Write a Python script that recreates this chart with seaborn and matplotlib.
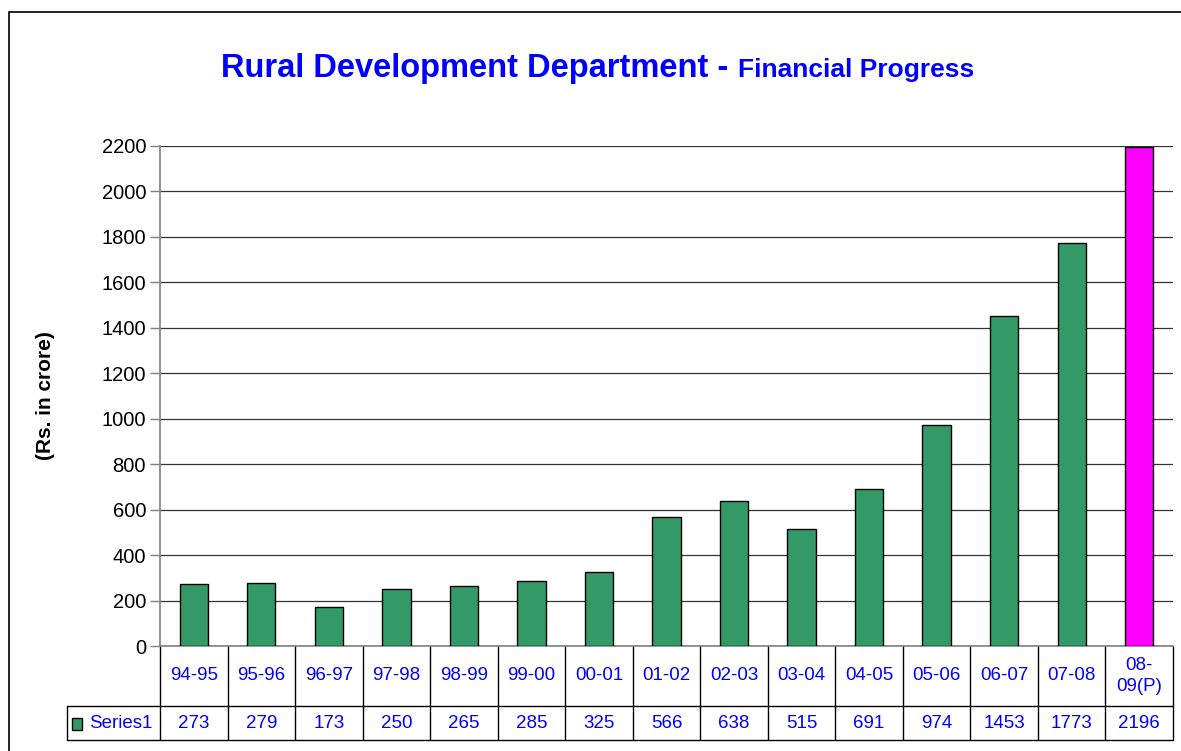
import matplotlib.pyplot as plt
import matplotlib.transforms as mtransforms
from matplotlib.patches import Rectangle
import seaborn as sns

# Chart data
years = ["94-95", "95-96", "96-97", "97-98", "98-99", "99-00", "00-01", "01-02",
         "02-03", "03-04", "04-05", "05-06", "06-07", "07-08", "08-\n09(P)"]
amounts = [273, 279, 173, 250, 265, 285, 325, 566, 638, 515, 691, 974, 1453, 1773, 2196]
series_name = "Series1"

green = "#339966"
magenta = "#FF00FF"
blue = "#0000FF"
bar_colors = [green] * (len(years) - 1) + [magenta]

sns.set_style("white")
plt.rcParams["font.family"] = ["Liberation Sans", "DejaVu Sans"]

fig = plt.figure(figsize=(11.81, 7.51), dpi=100)
ax = fig.add_axes([160 / 1181, 1 - 646 / 751, 1013 / 1181, 500 / 751])

sns.barplot(x=years, y=amounts, hue=years, palette=bar_colors, legend=False,
            width=0.42, edgecolor="black", linewidth=1, saturation=1,
            ax=ax, zorder=3)

ax.set_xlim(-0.5, len(years) - 0.5)
ax.set_ylim(0, 2200)
ax.set_yticks(range(0, 2201, 200))
ax.tick_params(axis="y", labelsize=14.5, length=7, width=1, color="#808080",
               labelcolor="black", direction="out", left=True, pad=3)
ax.set_xticks([])
ax.set_xlabel("")
ax.grid(axis="y", color="#333333", linewidth=0.9, zorder=0)
for s in ["top", "right"]:
    ax.spines[s].set_visible(False)
ax.spines["left"].set_color("#808080")
ax.spines["bottom"].set_color("#808080")
ax.spines["left"].set_linewidth(1.2)
ax.spines["bottom"].set_linewidth(1.2)

ax.set_ylabel("(Rs. in crore)", fontsize=15, fontweight="bold", color="black")
ax.yaxis.set_label_coords(-105 / 1013, 0.5)

# Data table below the plot
trans = mtransforms.blended_transform_factory(ax.transData, ax.transAxes)
n = len(years)
y_head_bot = -0.12
y_tab_bot = -0.188
x_left = -0.5 - 93 / (1013 / n)
kw = dict(transform=trans, clip_on=False, color="black", linewidth=1)
for k in range(n + 1):
    ax.plot([k - 0.5, k - 0.5], [0, y_tab_bot], **kw)
ax.plot([x_left, n - 0.5], [y_head_bot, y_head_bot], **kw)
ax.plot([x_left, n - 0.5], [y_tab_bot, y_tab_bot], **kw)
ax.plot([x_left, x_left], [y_head_bot, y_tab_bot], **kw)

for k, (lab, val) in enumerate(zip(years, amounts)):
    ax.text(k, -0.06, lab, transform=trans, ha="center", va="center",
            color=blue, fontsize=13.5, linespacing=1.25)
    ax.text(k, (y_head_bot + y_tab_bot) / 2, str(val), transform=trans,
            ha="center", va="center", color=blue, fontsize=13.5)

# legend key in table
key_w = 10 / (1013 / n)
ax.add_patch(Rectangle((x_left + 5 / (1013 / n), -0.168), key_w, 0.024,
                       transform=trans, clip_on=False, facecolor=green,
                       edgecolor="black", linewidth=1))
ax.text(x_left + 22 / (1013 / n), (y_head_bot + y_tab_bot) / 2, series_name,
        transform=trans, ha="left", va="center", color=blue, fontsize=13.5)

# Title
fig.text(728 / 1181, 1 - 77 / 751, "Rural Development Department -",
         ha="right", va="baseline", color=blue, fontsize=23.5, fontweight="bold")
fig.text(738 / 1181, 1 - 77 / 751, "Financial Progress",
         ha="left", va="baseline", color=blue, fontsize=19, fontweight="bold")

# Chart area border
fig.patches.append(Rectangle((9 / 1181, -0.1), 1.2, 1 - 12 / 751 + 0.1,
                             transform=fig.transFigure, fill=False,
                             edgecolor="black", linewidth=1.2))

fig.savefig("out.png", dpi=100)
